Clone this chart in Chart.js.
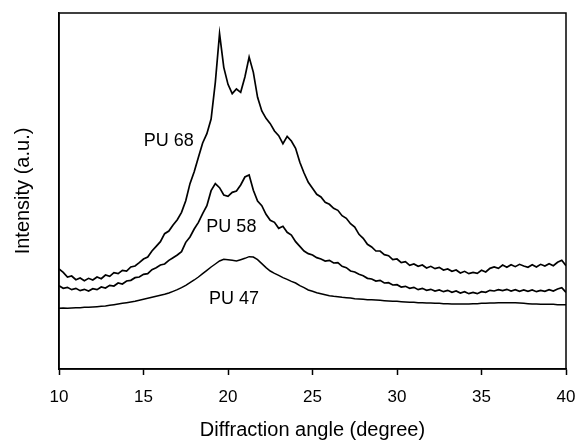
<!DOCTYPE html>
<html>
<head>
<meta charset="utf-8">
<script src="https://cdn.jsdelivr.net/npm/chart.js@4.4.1/dist/chart.umd.min.js"></script>
<style>
  html, body { margin: 0; padding: 0; background: #fff; }
  #wrap { width: 577px; height: 443px; }
</style>
</head>
<body>
<div id="wrap"><canvas id="xrd" width="577" height="443"></canvas></div>
<script>
// diffraction angle (2 theta, degree)
const angles = [
  10, 10.25, 10.5, 10.75, 11, 11.25, 11.5, 11.75, 12, 12.25, 12.5, 12.75,
  13, 13.25, 13.5, 13.75, 14, 14.25, 14.5, 14.75, 15, 15.25, 15.5, 15.75,
  16, 16.25, 16.5, 16.75, 17, 17.25, 17.5, 17.75, 18, 18.25, 18.5, 18.75,
  19, 19.25, 19.5, 19.75, 20, 20.25, 20.5, 20.75, 21, 21.25, 21.5, 21.75,
  22, 22.25, 22.5, 22.75, 23, 23.25, 23.5, 23.75, 24, 24.25, 24.5, 24.75,
  25, 25.25, 25.5, 25.75, 26, 26.25, 26.5, 26.75, 27, 27.25, 27.5, 27.75,
  28, 28.25, 28.5, 28.75, 29, 29.25, 29.5, 29.75, 30, 30.25, 30.5, 30.75,
  31, 31.25, 31.5, 31.75, 32, 32.25, 32.5, 32.75, 33, 33.25, 33.5, 33.75,
  34, 34.25, 34.5, 34.75, 35, 35.25, 35.5, 35.75, 36, 36.25, 36.5, 36.75,
  37, 37.25, 37.5, 37.75, 38, 38.25, 38.5, 38.75, 39, 39.25, 39.5, 39.75, 40
];

// intensity (a.u.)
const pu68 = [
  30.0, 29.0, 27.6, 27.9, 26.8, 27.3, 26.5, 27.2, 26.7, 27.6, 27.1, 28.2,
  27.8, 28.9, 28.6, 29.6, 29.4, 30.6, 30.9, 31.9, 33.0, 33.6, 35.4, 36.8,
  38.2, 40.6, 41.4, 43.2, 44.8, 47.0, 50.5, 55.6, 59.2, 63.5, 67.8, 70.6,
  75.0, 86.0, 100.6, 90.5, 85.4, 82.6, 84.0, 83.0, 87.6, 93.6, 89.0, 81.5,
  77.4, 75.2, 73.6, 71.4, 70.0, 67.6, 69.8, 68.4, 66.2, 62.0, 58.8, 56.0,
  54.2, 52.4, 51.6, 50.0, 49.4, 48.2, 47.6, 46.0, 45.2, 43.6, 42.6, 40.4,
  39.2, 37.4, 36.6, 35.4, 35.4, 34.3, 34.0, 32.8, 33.0, 31.9, 32.2, 31.1,
  31.5, 30.8, 31.2, 30.3, 30.8, 30.1, 30.5, 29.7, 30.0, 29.3, 29.7, 28.8,
  29.3, 28.6, 29.0, 28.7, 29.6, 29.1, 30.2, 30.6, 30.2, 31.2, 30.5, 31.3,
  30.7, 31.4, 30.9, 30.5, 31.3, 30.6, 31.4, 30.9, 31.6, 31.0, 32.0, 32.6, 31.0
];

const pu58 = [
  25.0, 24.2, 24.5, 23.8, 24.2, 23.5, 23.9, 23.4, 24.1, 23.8, 24.6, 24.3,
  25.1, 24.9, 25.8, 25.5, 26.4, 26.6, 27.4, 27.6, 28.4, 28.6, 29.8, 30.4,
  31.2, 31.5, 32.6, 33.4, 34.2, 35.2, 38.0, 39.6, 42.0, 44.0, 46.6, 49.0,
  53.5, 55.6, 54.4, 52.2, 51.8, 53.0, 53.4, 55.2, 57.6, 58.2, 53.6, 50.4,
  49.0, 46.4, 44.6, 44.0, 42.2, 42.8, 41.0, 40.2, 38.2, 36.8, 35.4, 34.6,
  34.2, 33.4, 33.0, 32.4, 32.6, 31.8, 31.9, 30.8, 30.4, 29.4, 29.1, 28.4,
  28.0, 27.2, 27.0, 26.4, 26.6, 25.8, 25.9, 25.2, 25.3, 24.6, 24.8, 24.2,
  24.5, 23.8, 24.2, 23.6, 23.9, 23.4, 23.7, 23.2, 23.6, 23.0, 23.4, 22.8,
  23.2, 22.6, 23.0, 22.6, 23.2, 23.0, 23.6, 23.4, 23.8, 23.5, 23.9, 23.4,
  23.8, 23.3, 23.7, 23.3, 23.7, 23.2, 23.6, 23.3, 23.8, 23.4, 24.0, 24.4, 23.0
];

const pu47 = [
  18.2, 18.3, 18.2, 18.3, 18.4, 18.4, 18.5, 18.5, 18.6, 18.7, 18.8, 18.9,
  19.1, 19.3, 19.5, 19.7, 19.9, 20.1, 20.3, 20.6, 20.9, 21.2, 21.5, 21.8,
  22.1, 22.4, 22.8, 23.3, 23.8, 24.4, 25.1, 25.9, 26.7, 27.6, 28.6, 29.6,
  30.6, 31.5, 32.4, 32.9, 32.8, 32.6, 32.4, 32.8, 33.2, 33.7, 33.6, 32.8,
  31.6, 30.4, 29.4, 28.7, 28.1, 27.4, 26.9, 26.3, 25.8, 25.0, 24.4, 23.7,
  23.3, 22.9, 22.6, 22.3, 22.0, 21.8, 21.7, 21.5, 21.4, 21.3, 21.1, 21.0,
  20.9, 20.8, 20.8, 20.7, 20.6, 20.5, 20.4, 20.3, 20.3, 20.2, 20.1, 20.0,
  20.0, 19.9, 19.9, 19.8, 19.8, 19.7, 19.7, 19.6, 19.6, 19.5, 19.5, 19.5,
  19.5, 19.5, 19.6, 19.6, 19.7, 19.7, 19.8, 19.8, 19.9, 19.9, 19.9, 19.9,
  19.9, 19.8, 19.7, 19.6, 19.5, 19.5, 19.4, 19.4, 19.4, 19.4, 19.3, 19.3, 19.3
];

const seriesNames = ["PU 68", "PU 58", "PU 47"];
const xTicks = [10, 15, 20, 25, 30, 35, 40];

const FONT = "'Liberation Sans', Arial, sans-serif";

const toPoints = (vals) => vals.map((v, i) => ({ x: angles[i], y: v }));

// text labels next to each curve, in data units
const curveLabels = [
  { text: seriesNames[0], x: 16.5, y: 68.5 },
  { text: seriesNames[1], x: 20.2, y: 42.5 },
  { text: seriesNames[2], x: 20.35, y: 21.0 }
];

const frameAndLabels = {
  id: "frameAndLabels",
  afterDatasetsDraw(chart) {
    const { ctx, chartArea: a, scales } = chart;
    ctx.save();
    ctx.strokeStyle = "#000";
    ctx.lineWidth = 1.5;
    ctx.strokeRect(a.left, a.top, a.right - a.left, a.bottom - a.top);
    ctx.fillStyle = "#000";
    ctx.font = "18px " + FONT;
    ctx.textAlign = "center";
    ctx.textBaseline = "middle";
    curveLabels.forEach(l => {
      ctx.fillText(l.text, scales.x.getPixelForValue(l.x), scales.y.getPixelForValue(l.y));
    });
    ctx.restore();
  }
};

const lineStyle = {
  borderColor: "#000",
  borderWidth: 1.7,
  pointRadius: 0,
  fill: false,
  tension: 0
};

new Chart(document.getElementById("xrd").getContext("2d"), {
  type: "line",
  data: {
    datasets: [
      { label: seriesNames[0], data: toPoints(pu68), ...lineStyle },
      { label: seriesNames[1], data: toPoints(pu58), ...lineStyle },
      { label: seriesNames[2], data: toPoints(pu47), ...lineStyle, borderWidth: 1.5 }
    ]
  },
  options: {
    responsive: false,
    animation: false,
    layout: { padding: { left: 0, top: 13, right: 11, bottom: 0 } },
    plugins: {
      legend: { display: false },
      tooltip: { enabled: false }
    },
    scales: {
      x: {
        type: "linear",
        min: 10,
        max: 40,
        afterBuildTicks: (s) => { s.ticks = xTicks.map(v => ({ value: v })); },
        afterFit: (s) => { s.height = 74; s.paddingLeft = 0; s.paddingRight = 0; },
        ticks: {
          color: "#000",
          font: { family: FONT, size: 17 },
          padding: 12,
          maxRotation: 0
        },
        grid: {
          display: true,
          drawOnChartArea: false,
          drawTicks: true,
          tickLength: 6,
          tickColor: "#000",
          tickWidth: 1.5
        },
        border: { display: true, color: "#000", width: 1.5 },
        title: {
          display: true,
          text: "Diffraction angle (degree)",
          color: "#000",
          font: { family: FONT, size: 20 },
          padding: { top: 0, bottom: 1 }
        }
      },
      y: {
        type: "linear",
        min: 0,
        max: 106.8,
        afterFit: (s) => { s.width = 59; },
        ticks: { display: false },
        grid: { display: false },
        border: { display: true, color: "#000", width: 1.5 },
        title: {
          display: true,
          text: "Intensity (a.u.)",
          color: "#000",
          font: { family: FONT, size: 20 },
          padding: { top: 11, bottom: 0 }
        }
      }
    }
  },
  plugins: [frameAndLabels]
});
</script>
</body>
</html>
